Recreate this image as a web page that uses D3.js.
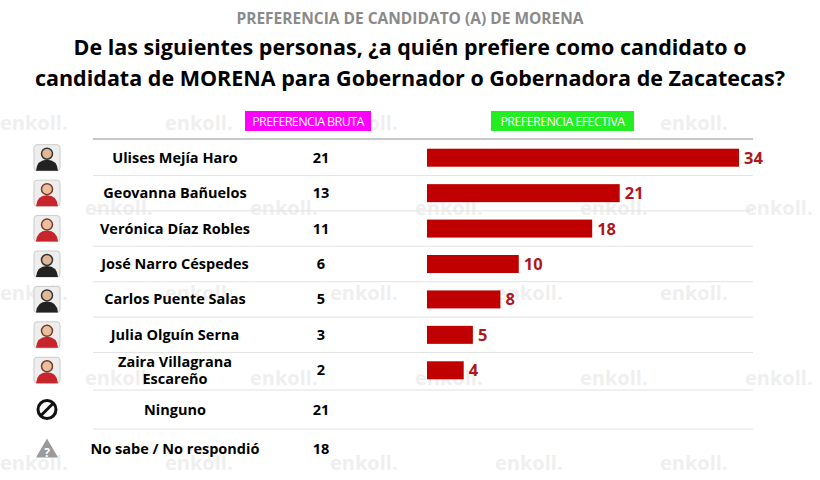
<!DOCTYPE html>
<html lang="es">
<head>
<meta charset="UTF-8">
<script src="https://d3js.org/d3.v7.min.js"></script>
<style>
  body { margin: 0; background: #fff; }
  text { font-family: "Open Sans", sans-serif; }
</style>
</head>
<body>
<svg width="820" height="480"></svg>
<script>
const names = ["Ulises Mejía Haro", "Geovanna Bañuelos", "Verónica Díaz Robles",
  "José Narro Céspedes", "Carlos Puente Salas", "Julia Olguín Serna",
  "Zaira Villagrana|Escareño", "Ninguno", "No sabe / No respondió"];
const bruta = [21, 13, 11, 6, 5, 3, 2, 21, 18];
const efectiva = [34, 21, 18, 10, 8, 5, 4, null, null];
const kinds = ["m", "f", "f", "m", "m", "f", "f", "none", "ns"];

const svg = d3.select("svg");

// watermarks
const wmX = [0, 165, 330, 495, 660];
const wmY = [130, 215, 300, 385, 470];
wmY.forEach((y, j) => wmX.forEach((x, i) => {
  svg.append("text").attr("x", x + (j % 2 ? 85 : 0)).attr("y", y)
    .attr("font-size", 20).attr("font-weight", "bold").attr("fill", "#efefef")
    .text("enkoll.");
}));

svg.append("text").attr("x", 410).attr("y", 24).attr("text-anchor", "middle")
  .attr("font-size", 15.5).attr("font-weight", "bold").attr("fill", "#8a8a8a")
  .text("PREFERENCIA DE CANDIDATO (A) DE MORENA");
["De las siguientes personas, ¿a quién prefiere como candidato o",
 "candidata de MORENA para Gobernador o Gobernadora de Zacatecas?"].forEach((t, i) => {
  svg.append("text").attr("x", 410).attr("y", 55 + i * 31).attr("text-anchor", "middle")
    .attr("font-size", 21.5).attr("font-weight", "bold").attr("fill", "#000").text(t);
});

// legend tags
function tag(x, w, fill, label) {
  svg.append("rect").attr("x", x).attr("y", 111).attr("width", w).attr("height", 20).attr("fill", fill);
  svg.append("text").attr("x", x + w / 2).attr("y", 126).attr("text-anchor", "middle")
    .attr("font-size", 12.5).attr("fill", "#fff").attr("letter-spacing", -0.6).text(label);
}
tag(245, 126, "#ff00ff", "PREFERENCIA BRUTA");
tag(491, 143, "#22ee22", "PREFERENCIA EFECTIVA");

const yA = d3.scaleBand().domain(d3.range(7)).range([140, 388]);
const yB = d3.scaleBand().domain([7, 8]).range([390, 468]);
const yc = i => i < 7 ? yA(i) + yA.bandwidth() / 2 : yB(i) + yB.bandwidth() / 2;
const yTop = i => i < 7 ? yA(i) : yB(i);
const x = d3.scaleLinear().domain([0, 34]).range([427, 739]);

svg.append("line").attr("x1", 93).attr("x2", 753).attr("y1", 139).attr("y2", 139)
  .attr("stroke", "#8e9499").attr("stroke-width", 1.2);
d3.range(1, 9).forEach(i => {
  svg.append("line").attr("x1", 93).attr("x2", 753).attr("y1", yTop(i)).attr("y2", yTop(i))
    .attr("stroke", "#e2e2e2");
});

const rows = svg.selectAll("g.row").data(names).join("g").attr("class", "row");
rows.each(function (n, i) {
  const g = d3.select(this);
  const cy = yc(i);
  const lines = n.split("|");
  lines.forEach((l, k) => {
    g.append("text").attr("x", 175).attr("y", cy + 5 + (k - (lines.length - 1) / 2) * 17)
      .attr("text-anchor", "middle").attr("font-size", 14.5).attr("font-weight", "bold").text(l);
  });
  g.append("text").attr("x", 321).attr("y", cy + 5).attr("text-anchor", "middle")
    .attr("font-size", 14.5).attr("font-weight", "bold").text(bruta[i]);
  if (efectiva[i] != null) {
    g.append("rect").attr("x", x(0)).attr("y", cy - 9).attr("width", x(efectiva[i]) - x(0))
      .attr("height", 18).attr("fill", "#c00000");
    g.append("text").attr("x", x(efectiva[i]) + 5).attr("y", cy + 6)
      .attr("font-size", 16.5).attr("font-weight", "bold").attr("fill", "#b0161c").text(efectiva[i]);
  }
  // icons
  const k = kinds[i];
  if (k === "none") {
    g.append("circle").attr("cx", 47).attr("cy", cy).attr("r", 9).attr("fill", "none")
      .attr("stroke", "#111").attr("stroke-width", 3);
    g.append("line").attr("x1", 41).attr("y1", cy + 6).attr("x2", 53).attr("y2", cy - 6)
      .attr("stroke", "#111").attr("stroke-width", 3);
  } else if (k === "ns") {
    g.append("path").attr("d", `M47,${cy - 10} L58,${cy + 9} L36,${cy + 9} Z`).attr("fill", "#9a9a9a");
    g.append("text").attr("x", 47).attr("y", cy + 8).attr("text-anchor", "middle")
      .attr("font-size", 12).attr("font-weight", "bold").attr("fill", "#fff").text("?");
  } else {
    g.append("rect").attr("x", 34).attr("y", cy - 13).attr("width", 26).attr("height", 26)
      .attr("rx", 3).attr("fill", "#eee").attr("stroke", "#ccc");
    g.append("path").attr("d", `M36,${cy + 13} Q37,${cy + 2} 47,${cy + 2} Q57,${cy + 2} 58,${cy + 13} Z`)
      .attr("fill", k === "m" ? "#222" : "#c8242c");
    g.append("circle").attr("cx", 47).attr("cy", cy - 4).attr("r", 5.5)
      .attr("fill", k === "m" ? "#e0b898" : "#e8c0a0")
      .attr("stroke", k === "m" ? "#333" : "#7a3a2a").attr("stroke-width", 1.5);
  }
});
</script>
</body>
</html>
